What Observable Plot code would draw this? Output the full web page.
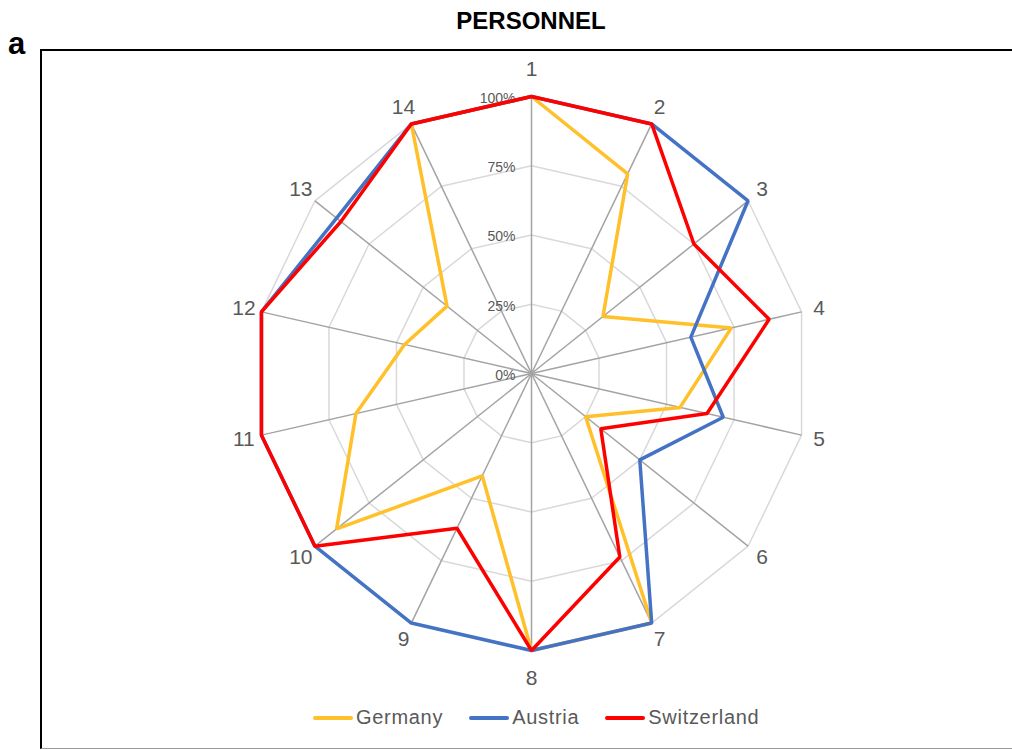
<!DOCTYPE html>
<html>
<head>
<meta charset="utf-8">
<script src="https://cdn.jsdelivr.net/npm/d3@7"></script>
<script src="https://cdn.jsdelivr.net/npm/@observablehq/plot@0.6"></script>
<style>
  html, body { margin: 0; padding: 0; background: #fff; }
  body { width: 1012px; height: 750px; position: relative; overflow: hidden; font-family: "Liberation Sans", Arial, sans-serif; }
  #title { position: absolute; left: 0; width: 1062px; top: 7px; text-align: center; font-weight: bold; font-size: 24px; color: #000; }
  #panel { position: absolute; left: 8px; top: 26px; font-weight: bold; font-size: 31px; color: #000; }
  #box { position: absolute; left: 40px; top: 49px; width: 1100px; height: 697px; border-left: 2px solid #000; border-top: 2px solid #000; border-bottom: 1px solid #9a9a9a; }
  #chart { position: absolute; left: 0; top: 0; }
  #legend { position: absolute; left: 313px; top: 706px; display: flex; align-items: center; font-size: 20px; color: #595959; letter-spacing: 0.7px; }
  .item { display: flex; align-items: center; margin-right: 26px; }
  .sw { width: 40px; height: 4px; border-radius: 2px; margin-right: 3px; }
</style>
</head>
<body>
<div id="title">PERSONNEL</div>
<div id="panel">a</div>
<div id="box"></div>
<div id="chart"></div>
<div id="legend"></div>
<script>
// ---- data ----
const categories = ["1","2","3","4","5","6","7","8","9","10","11","12","13","14"];
const seriesNames = ["Germany", "Austria", "Switzerland"];
const germany     = [1.00, 0.80, 0.33, 0.74, 0.55, 0.25, 1.00, 1.00, 0.41, 0.90, 0.65, 0.47, 0.39, 1.00];
const austria     = [1.00, 1.00, 1.00, 0.59, 0.71, 0.50, 1.00, 1.00, 1.00, 1.00, 1.00, 1.00, 0.90, 1.00];
const switzerland = [1.00, 1.00, 0.75, 0.88, 0.65, 0.32, 0.735, 1.00, 0.62, 1.00, 1.00, 1.00, 0.88, 1.00];
const ringLevels = [0.25, 0.5, 0.75, 1];
const tickValues = [0, 0.25, 0.5, 0.75, 1];
const tickLabels = ["0%", "25%", "50%", "75%", "100%"];
const seriesColors = ["#FFC02A", "#4472C4", "#FF0000"];

// ---- geometry ----
const n = categories.length;
const ang = i => i * 2 * Math.PI / n;
const px = (v, i) => v * Math.sin(ang(i));
const py = (v, i) => v * Math.cos(ang(i));

const W = 1012, H = 700, CX = 531, CY = 373, R = 277;

const rings = ringLevels.flatMap(l => categories.map((c, i) => ({level: l, x: px(l, i), y: py(l, i)})));
const spokes = categories.map((c, i) => ({x: px(1, i), y: py(1, i)}));
const seriesValues = [germany, austria, switzerland];
const points = seriesNames.flatMap((s, k) => seriesValues[k].map((v, i) => ({series: s, x: px(v, i), y: py(v, i)})));
const catLabels = categories.map((c, i) => {
  const r = (i === 0 || i === n / 2) ? 1.1 : 1.065;
  return {label: c, x: px(r, i), y: py(r, i)};
});
const ticks = tickValues.map((v, j) => ({v, label: tickLabels[j]}));

const chart = Plot.plot({
  width: W, height: H,
  margin: 0,
  style: {background: "transparent", overflow: "visible"},
  x: {domain: [-CX / R, (W - CX) / R], range: [0, W], axis: null},
  y: {domain: [-(H - CY) / R, CY / R], range: [H, 0], axis: null},
  color: {domain: seriesNames, range: seriesColors},
  marks: [
    Plot.line(rings, {x: "x", y: "y", z: "level", curve: "linear-closed", stroke: "#d9d9d9", strokeWidth: 1.5}),
    Plot.link(spokes, {x1: 0, y1: 0, x2: "x", y2: "y", stroke: "#a3a3a3", strokeWidth: 1.5}),
    Plot.text(ticks, {x: 0, y: "v", text: "label", textAnchor: "end", dx: -16, dy: 2, fontSize: 14, fill: "#595959", fontFamily: "Liberation Sans, Arial, sans-serif"}),
    Plot.line(points, {x: "x", y: "y", z: "series", stroke: "series", curve: "linear-closed", strokeWidth: 3.5, strokeLinejoin: "miter", strokeLinecap: "butt"}),
    Plot.text(catLabels, {x: "x", y: "y", text: "label", fontSize: 21, fill: "#595959", fontFamily: "Liberation Sans, Arial, sans-serif"})
  ]
});
document.getElementById("chart").appendChild(chart);

// legend
const leg = document.getElementById("legend");
seriesNames.forEach((s, k) => {
  const item = document.createElement("div");
  item.className = "item";
  const sw = document.createElement("span");
  sw.className = "sw";
  sw.style.background = seriesColors[k];
  const t = document.createElement("span");
  t.textContent = s;
  item.appendChild(sw); item.appendChild(t);
  leg.appendChild(item);
});
</script>
</body>
</html>
